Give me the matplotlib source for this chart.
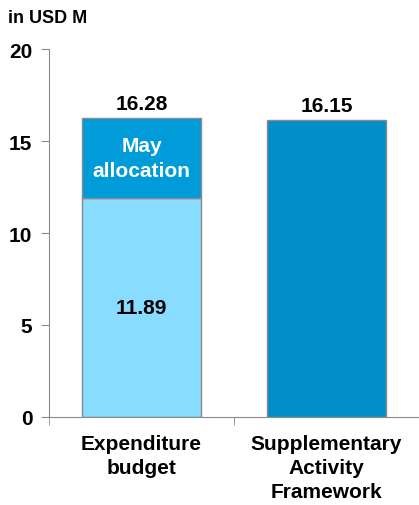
import numpy as np
import matplotlib.pyplot as plt

categories = ['Expenditure\nbudget', 'Supplementary\nActivity\nFramework']
base_values = [11.89, 16.15]
may_allocation = [16.28 - 11.89, 0]
totals = [16.28, 16.15]

plt.rcParams['font.family'] = ['Liberation Sans', 'DejaVu Sans']
plt.rcParams['font.weight'] = 'bold'

fig = plt.figure(figsize=(4.19, 5.06), dpi=100)
ax = fig.add_axes([0.117, 0.174, 0.883, 0.727])

x = np.arange(len(categories))
base_colors = ['#87DCFF', '#008FC8']
ax.bar(x, base_values, width=0.64, color=base_colors, edgecolor='#8a8a8a', linewidth=1)
ax.bar(x[:1], may_allocation[:1], bottom=base_values[:1], width=0.64,
       color='#009CDA', edgecolor='#8a8a8a', linewidth=1)

for xi, t in zip(x, totals):
    ax.text(xi, t + 0.25, f'{t:.2f}', ha='center', va='bottom', fontsize=15, fontweight='bold')
ax.text(x[0], base_values[0] / 2, f'{base_values[0]:.2f}', ha='center', va='center',
        fontsize=15, fontweight='bold')
ax.text(x[0], base_values[0] + may_allocation[0] / 2, 'May\nallocation', ha='center', va='center',
        fontsize=15, fontweight='bold', color='white', linespacing=1.35)

ax.set_xlim(-0.5, 1.5)
ax.set_ylim(0, 20)
ax.set_yticks([0, 5, 10, 15, 20])
ax.tick_params(axis='y', labelsize=15, length=6, color='#8a8a8a', pad=6)
ax.set_xticks(x)
ax.set_xticklabels(categories, fontsize=15, fontweight='bold', linespacing=1.35)
ax.tick_params(axis='x', length=0, pad=12)
ax.set_xticks([-0.5, 0.5, 1.5], minor=True)
ax.tick_params(axis='x', which='minor', length=6, color='#8a8a8a')

for s in ['top', 'right']:
    ax.spines[s].set_visible(False)
for s in ['left', 'bottom']:
    ax.spines[s].set_color('#8a8a8a')

fig.text(0.02, 0.98, 'in USD M', ha='left', va='top', fontsize=13, fontweight='bold')

fig.savefig('out.png', dpi=100)
